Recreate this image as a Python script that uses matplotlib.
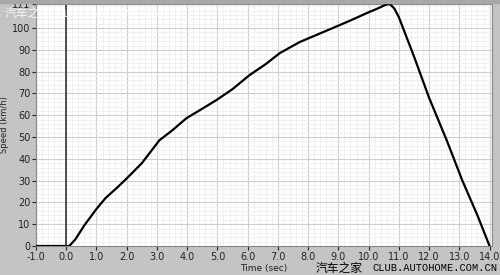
import numpy as np
import matplotlib
matplotlib.use('Agg')
import matplotlib.pyplot as plt
from matplotlib.ticker import MultipleLocator, FixedLocator

# 速度曲线
t = [-1.0, 0.0, 0.1, 0.3, 0.6, 1.0, 1.3, 1.7, 2.0, 2.5, 3.08, 3.5, 3.98, 4.5, 4.97,
     5.5, 6.06, 6.6, 7.06, 7.72, 8.3, 8.81, 9.4, 9.94, 10.3, 10.53, 10.65, 10.72,
     10.85, 11.0, 11.5, 12.0, 12.58, 13.1, 13.6, 14.0]
v = [0.0, 0.0, 0.0, 3.0, 9.5, 17.0, 22.0, 27.0, 31.0, 38.0, 48.5, 53.0, 58.7, 63.0,
     67.0, 72.0, 78.4, 83.5, 88.5, 93.6, 97.0, 100.0, 103.5, 106.9, 109.0, 110.5,
     111.0, 110.8, 109.0, 105.0, 87.0, 68.0, 48.6, 30.0, 14.0, 0.0]

xticks = np.arange(-1, 15, 1)
xticklabels = ['%.1f' % x for x in xticks]
yticks = [0, 10, 20, 30, 40, 50, 60, 70, 80, 90, 100, 111]

bg = '#c4c4c4'
fig = plt.figure(figsize=(5, 2.75), dpi=100, facecolor=bg)
# 顶部深色条
fig.patches.append(plt.Rectangle((0, 0.988), 1, 0.012, transform=fig.transFigure,
                                 color='#a8a8a8', zorder=0))
ax = fig.add_axes([0.072, 0.1055, 0.912, 0.8795])
ax.set_facecolor('white')

ax.set_xlim(-1, 14.08)
ax.set_ylim(0, 111)
ax.xaxis.set_major_locator(FixedLocator(xticks))
ax.set_xticklabels(xticklabels)
ax.xaxis.set_minor_locator(MultipleLocator(0.2))
ax.yaxis.set_major_locator(FixedLocator(yticks))
ax.yaxis.set_minor_locator(MultipleLocator(2))

ax.grid(which='minor', color='#ececec', lw=0.5)
ax.grid(which='major', color='#cfcfcf', lw=0.8)
ax.set_axisbelow(True)

ax.tick_params(which='major', labelsize=7, length=3, width=0.8, colors='#222222', pad=1)
ax.tick_params(which='minor', length=0)
for s in ax.spines.values():
    s.set_color('#888888')
    s.set_linewidth(0.8)

ax.axvline(0, color='#333333', lw=1.2, zorder=2)
ax.plot(t, v, color='black', lw=1.6, zorder=3)

ax.set_xlabel('Time (sec)', fontsize=6.5, labelpad=2, color='#222222')
ax.set_ylabel('Speed (km/h)', fontsize=6, labelpad=2, color='#222222')

# 水印
fig.text(0.01, 0.95, '汽车之家', color='white', fontsize=8.5,
         family=['Noto Sans CJK SC', 'DejaVu Sans'], va='center', alpha=0.85)
fig.text(0.115, 0.95, 'CLUB.AUTOHOME.COM.CN', color='white', fontsize=7.5,
         family='Liberation Mono', va='center', alpha=0.85)
fig.text(0.632, 0.024, '汽车之家', color='black', fontsize=8.5,
         family=['Noto Sans CJK SC', 'DejaVu Sans'], va='center')
fig.text(0.745, 0.024, 'CLUB.AUTOHOME.COM.CN', color='black', fontsize=7.5,
         family='Liberation Mono', va='center')

fig.savefig('out.png', dpi=100, facecolor=bg)
